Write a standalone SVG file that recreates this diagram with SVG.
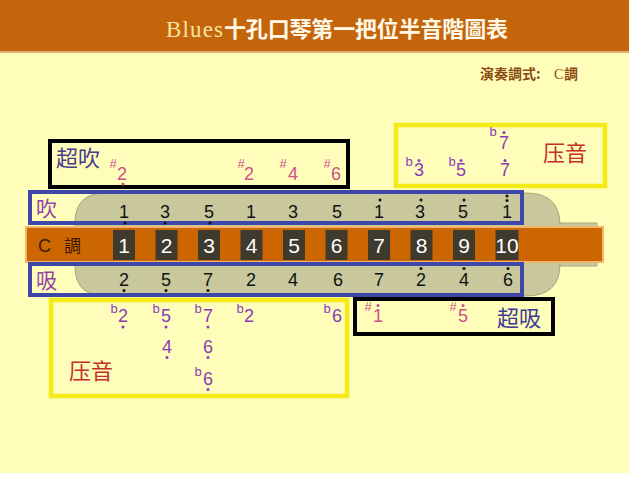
<svg xmlns="http://www.w3.org/2000/svg" width="629" height="478" viewBox="0 0 629 478">
<style>
.num{font-family:"Liberation Sans",Arial,sans-serif;font-size:18px;text-anchor:middle;fill:#111}
.hole{font-family:"Liberation Sans",Arial,sans-serif;font-size:21px;text-anchor:middle;fill:#fff}
.pk{font-family:"Liberation Sans",Arial,sans-serif;font-size:18px;text-anchor:middle;fill:#CF5089}
.pks{font-family:"Liberation Sans",Arial,sans-serif;font-size:13px;text-anchor:middle;fill:#CF5089}
.vi{font-family:"Liberation Sans",Arial,sans-serif;font-size:18px;text-anchor:middle;fill:#8A3CB6}
.vis{font-family:"Liberation Sans",Arial,sans-serif;font-size:13px;text-anchor:middle;fill:#8A3CB6}
.cjk{font-family:"Noto Sans CJK TC","Noto Sans CJK SC",sans-serif}
.bk{fill:none;stroke:#000;stroke-width:4}
.yb{fill:none;stroke:#F4EA16;stroke-width:4.5}
.bb{fill:none;stroke:#3D47A8;stroke-width:4}
.sq{fill:#3E3A2E}
.d{fill:#111}
.dp{fill:#CF5089}
.dv{fill:#8A3CB6}
</style>
<rect x="0" y="0" width="629" height="478" fill="#FFFDBA"/>
<rect x="0" y="473" width="629" height="5" fill="#FFFFFF"/>
<g id="header">
<rect x="0" y="0" width="629" height="51" fill="#C4650B"/>
<rect x="0" y="51" width="629" height="2" fill="#E2B070"/>
<text x="166" y="37" font-family="'Liberation Serif',serif" font-size="23" fill="#F6E3A0" textLength="57">Blues</text>
<text x="224" y="37" class="cjk" font-size="22" font-weight="700" fill="#FFF8E6" textLength="284">十孔口琴第一把位半音階圖表</text>
<text x="480" y="79" class="cjk" font-size="14" font-weight="700" fill="#8B4A12">演奏調式:</text>
<text x="554" y="79" font-family="'Liberation Serif',serif" font-size="14" fill="#8B4A12">C</text>
<text x="564" y="79" class="cjk" font-size="14" font-weight="700" fill="#8B4A12">調</text>
</g>
<g id="harmonica">
<path d="M 105 193 L 526 193 Q 560 193 560 225 L 560 223 L 597 223 L 597 266 L 560 266 L 560 264 Q 560 296 526 296 L 105 296 Q 75 296 75 266 L 75 223 Q 75 193 105 193 Z" fill="#C9C89C" stroke="#ABA67C" stroke-width="1"/>
<rect x="26" y="227" width="577" height="35" fill="#CC6600" stroke="#F4B56C" stroke-width="2"/>
<text x="38" y="252" font-family="'Liberation Sans',sans-serif" font-size="18" fill="#3B1A05">C</text>
<text x="64" y="252" class="cjk" font-size="17" fill="#3B1A05">調</text>
<rect class="sq" x="113" y="230" width="22" height="30"/>
<rect class="sq" x="155.5" y="230" width="22" height="30"/>
<rect class="sq" x="198" y="230" width="22" height="30"/>
<rect class="sq" x="240.5" y="230" width="22" height="30"/>
<rect class="sq" x="283" y="230" width="22" height="30"/>
<rect class="sq" x="325.5" y="230" width="22" height="30"/>
<rect class="sq" x="368" y="230" width="22" height="30"/>
<rect class="sq" x="410.5" y="230" width="22" height="30"/>
<rect class="sq" x="453" y="230" width="22" height="30"/>
<rect class="sq" x="495.5" y="230" width="23" height="30"/>
<text class="hole" x="124" y="253">1</text>
<text class="hole" x="166.5" y="253">2</text>
<text class="hole" x="209" y="253">3</text>
<text class="hole" x="251.5" y="253">4</text>
<text class="hole" x="294" y="253">5</text>
<text class="hole" x="336.5" y="253">6</text>
<text class="hole" x="379" y="253">7</text>
<text class="hole" x="421.5" y="253">8</text>
<text class="hole" x="464" y="253">9</text>
<text class="hole" x="507" y="253" font-size="20">10</text>
</g>
<g id="blow-row">
<rect class="bb" x="30" y="192" width="492" height="31"/>
<text x="36" y="216" class="cjk" font-size="21" fill="#9445AA">吹</text>
<text class="num" x="124" y="218">1</text>
<text class="num" x="165" y="218">3</text>
<text class="num" x="209" y="218">5</text>
<text class="num" x="251" y="218">1</text>
<text class="num" x="293" y="218">3</text>
<text class="num" x="337" y="218">5</text>
<text class="num" x="379" y="218">1</text>
<text class="num" x="420" y="218">3</text>
<text class="num" x="463" y="218">5</text>
<text class="num" x="507" y="218">1</text>
<circle class="d" cx="125" cy="223" r="1.5"/>
<circle class="d" cx="165" cy="223" r="1.5"/>
<circle class="d" cx="210" cy="223" r="1.5"/>
<circle class="d" cx="380" cy="200" r="1.5"/>
<circle class="d" cx="421" cy="200" r="1.5"/>
<circle class="d" cx="464" cy="200" r="1.5"/>
<circle class="d" cx="507" cy="196" r="1.5"/>
<circle class="d" cx="507" cy="200.5" r="1.5"/>
</g>
<g id="draw-row">
<rect class="bb" x="30" y="264" width="492" height="31"/>
<text x="36" y="288" class="cjk" font-size="21" fill="#9445AA">吸</text>
<text class="num" x="124" y="286">2</text>
<text class="num" x="166" y="286">5</text>
<text class="num" x="208" y="286">7</text>
<text class="num" x="251" y="286">2</text>
<text class="num" x="293" y="286">4</text>
<text class="num" x="338" y="286">6</text>
<text class="num" x="379" y="286">7</text>
<text class="num" x="421" y="286">2</text>
<text class="num" x="464" y="286">4</text>
<text class="num" x="508" y="286">6</text>
<circle class="d" cx="124" cy="290.5" r="1.5"/>
<circle class="d" cx="166" cy="290.5" r="1.5"/>
<circle class="d" cx="208" cy="290.5" r="1.5"/>
<circle class="d" cx="421" cy="268.5" r="1.5"/>
<circle class="d" cx="464" cy="268.5" r="1.5"/>
<circle class="d" cx="508" cy="268.5" r="1.5"/>
</g>
<g id="overblow">
<rect class="bk" x="50" y="141" width="298" height="46"/>
<text x="56" y="166" class="cjk" font-size="22" fill="#4A3B8C">超吹</text>
<text class="pks" x="113" y="168">#</text>
<text class="pk" x="122" y="180">2</text>
<circle class="dp" cx="123" cy="184" r="1.5"/>
<text class="pks" x="241" y="168">#</text>
<text class="pk" x="249" y="180">2</text>
<text class="pks" x="283" y="168">#</text>
<text class="pk" x="293" y="180">4</text>
<text class="pks" x="327" y="168">#</text>
<text class="pk" x="336" y="180">6</text>
</g>
<g id="blow-bend">
<rect class="yb" x="396" y="125" width="209" height="61"/>
<text x="543" y="161" font-family="'Noto Sans CJK SC',sans-serif" font-size="22" fill="#C4302A">压音</text>
<text class="vis" x="493" y="136">b</text>
<text class="vi" x="504" y="149" font-size="17">7</text>
<circle class="dv" cx="504" cy="132.5" r="1.5"/>
<text class="vis" x="409" y="166">b</text>
<text class="vi" x="419" y="176" font-size="17">3</text>
<circle class="dv" cx="419" cy="160.5" r="1.5"/>
<text class="vis" x="452" y="166">b</text>
<text class="vi" x="461" y="176" font-size="17">5</text>
<circle class="dv" cx="461" cy="160.5" r="1.5"/>
<text class="vi" x="505" y="176" font-size="17">7</text>
<circle class="dv" cx="505" cy="160.5" r="1.5"/>
</g>
<g id="draw-bend">
<rect class="yb" x="51" y="300" width="296" height="96"/>
<text x="69" y="379" font-family="'Noto Sans CJK SC',sans-serif" font-size="22" fill="#C4302A">压音</text>
<text class="vis" x="114" y="313">b</text>
<text class="vi" x="123" y="322">2</text>
<circle class="dv" cx="123" cy="327" r="1.5"/>
<text class="vis" x="156" y="313">b</text>
<text class="vi" x="166" y="322">5</text>
<circle class="dv" cx="166" cy="327" r="1.5"/>
<text class="vis" x="198" y="313">b</text>
<text class="vi" x="208" y="322">7</text>
<circle class="dv" cx="208" cy="327" r="1.5"/>
<text class="vis" x="240" y="313">b</text>
<text class="vi" x="249" y="322">2</text>
<text class="vis" x="327" y="313">b</text>
<text class="vi" x="337" y="322">6</text>
<text class="vi" x="167" y="353">4</text>
<circle class="dv" cx="167" cy="357.5" r="1.5"/>
<text class="vi" x="208" y="353">6</text>
<circle class="dv" cx="208" cy="357.5" r="1.5"/>
<text class="vis" x="198" y="376">b</text>
<text class="vi" x="208" y="385">6</text>
<circle class="dv" cx="208" cy="389.5" r="1.5"/>
</g>
<g id="overdraw">
<rect class="bk" x="355" y="299" width="198" height="35"/>
<text class="pks" x="368" y="311">#</text>
<text class="pk" x="378" y="322">1</text>
<circle class="dp" cx="378" cy="305.5" r="1.5"/>
<text class="pks" x="453" y="311">#</text>
<text class="pk" x="463" y="322">5</text>
<circle class="dp" cx="463" cy="305.5" r="1.5"/>
<text x="497" y="326" class="cjk" font-size="22" fill="#3C3C96">超吸</text>
</g>
<g id="connectors"/>
</svg>
